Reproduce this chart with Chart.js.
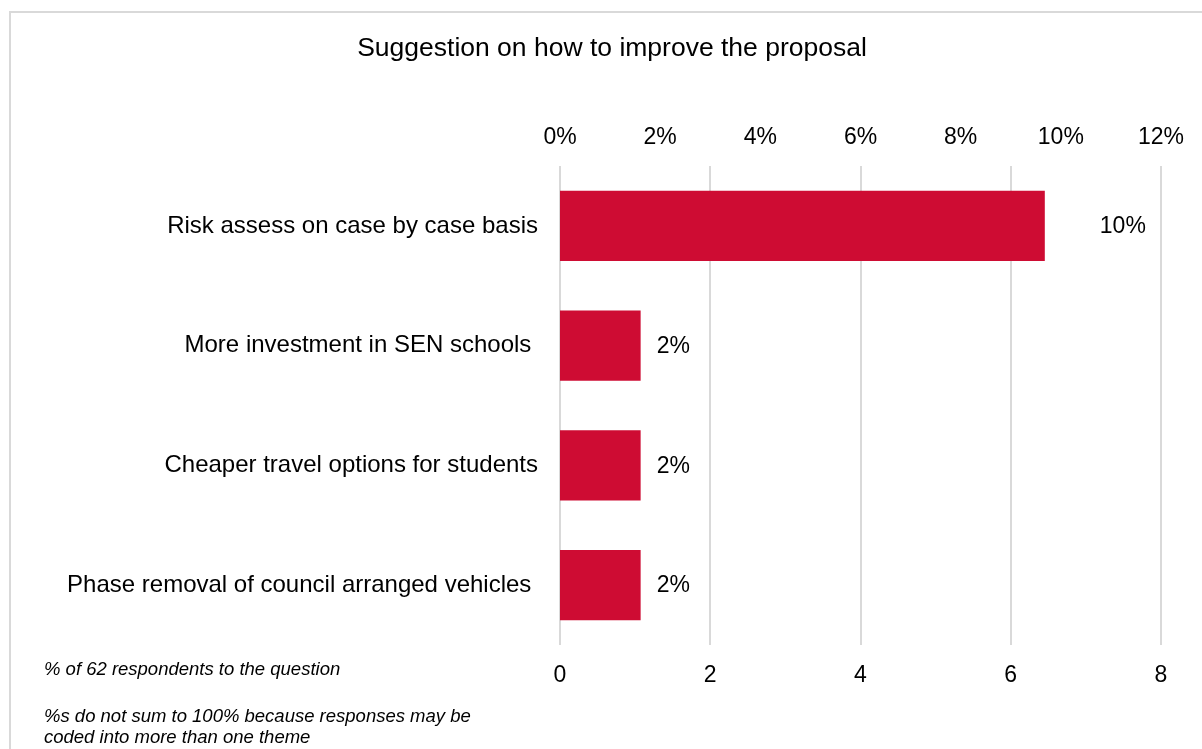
<!DOCTYPE html>
<html>
<head>
<meta charset="utf-8">
<script src="https://cdn.jsdelivr.net/npm/chart.js@4"></script>
<style>
  body { margin: 0; background: #fff; }
  #frame { position: absolute; left: 9px; top: 11px; width: 1300px; height: 800px;
           border-left: 2px solid #d9d9d9; border-top: 2px solid #d9d9d9; }
  #wrap { position: absolute; left: 0; top: 0; width: 1202px; height: 749px; }
</style>
</head>
<body>
<div id="frame"></div>
<div id="wrap"><canvas id="myChart"></canvas></div>
<script>
const categorie = [
    'Risk assess on case by case basis',
    'More investment in SEN schools ',
    'Cheaper travel options for students',
    'Phase removal of council arranged vehicles '
];
// % of 62 respondents
const percentuali = [9.68, 1.61, 1.61, 1.61];
const tickPercentuali = [0, 2, 4, 6, 8, 10, 12];
const tickConteggi = [0, 2, 4, 6, 8];
const titolo = 'Suggestion on how to improve the proposal';
const note = [
    '% of 62 respondents to the question',
    '%s do not sum to 100% because responses may be',
    'coded into more than one theme'
];

const FONT = '"Liberation Sans", Arial, sans-serif';
Chart.defaults.font.family = FONT;
Chart.defaults.color = '#000';

// titolo, note ed etichette delle barre
const testiPlugin = {
    id: 'testi',
    afterDatasetsDraw(chart) {
        const c = chart.ctx;
        c.save();
        c.fillStyle = '#000';
        c.font = '26.5px ' + FONT;
        c.textAlign = 'center';
        c.textBaseline = 'middle';
        c.fillText(titolo, 612, 49);

        c.font = 'italic 18.5px ' + FONT;
        c.textAlign = 'left';
        c.fillText(note[0], 44, 670);
        c.fillText(note[1], 44, 717);
        c.fillText(note[2], 44, 738);

        c.font = '23px ' + FONT;
        const meta = chart.getDatasetMeta(0);
        meta.data.forEach(function(bar, i) {
            const offset = i === 0 ? 55 : 16;
            c.fillText(Math.round(percentuali[i]) + '%', bar.x + offset, bar.y + 1);
        });
        c.restore();
    }
};

const ctx = document.getElementById('myChart');
new Chart(ctx, {
    type: 'bar',
    data: {
        labels: categorie,
        datasets: [{
            data: percentuali,
            xAxisID: 'xPct',
            backgroundColor: '#ce0c33',
            borderWidth: 0,
            categoryPercentage: 1,
            barPercentage: 0.585
        }]
    },
    options: {
        indexAxis: 'y',
        responsive: true,
        maintainAspectRatio: false,
        animation: false,
        layout: { padding: { left: 22, right: 41, top: 0, bottom: 0 } },
        plugins: {
            legend: { display: false },
            tooltip: { enabled: false }
        },
        scales: {
            xPct: {
                type: 'linear',
                position: 'top',
                min: 0,
                max: 12,
                afterBuildTicks: function(scale) {
                    scale.ticks = tickPercentuali.map(v => ({ value: v }));
                },
                afterFit: function(scale) { scale.height = 166; },
                grid: { display: false, drawTicks: false },
                border: { display: false },
                ticks: {
                    padding: 15,
                    font: { size: 23 },
                    callback: v => v + '%'
                }
            },
            x: {
                type: 'linear',
                position: 'bottom',
                min: 0,
                max: 8,
                afterBuildTicks: function(scale) {
                    scale.ticks = tickConteggi.map(v => ({ value: v }));
                },
                afterFit: function(scale) { scale.height = 104; },
                grid: { color: '#d9d9d9', lineWidth: 2, drawTicks: false },
                border: { display: false },
                ticks: { padding: 17, font: { size: 23 } }
            },
            y: {
                afterFit: function(scale) { scale.width = 538; },
                grid: { display: false, drawTicks: false },
                border: { display: false },
                ticks: { padding: 22, font: { size: 24 } }
            }
        }
    },
    plugins: [testiPlugin]
});
</script>
</body>
</html>
